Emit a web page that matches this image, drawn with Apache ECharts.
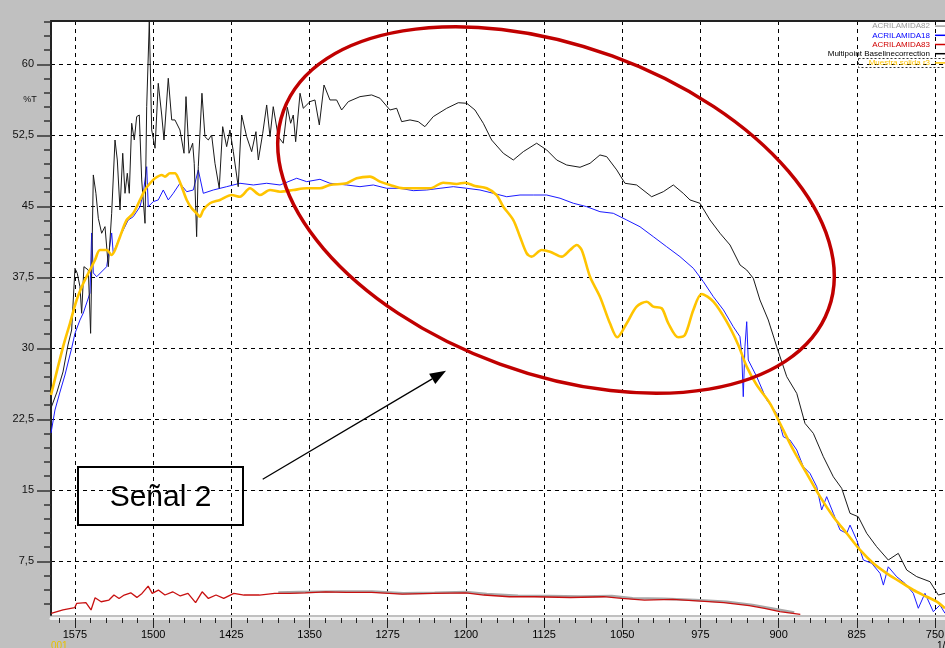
<!DOCTYPE html>
<html>
<head>
<meta charset="utf-8">
<script src="https://cdn.jsdelivr.net/npm/echarts@6/dist/echarts.min.js"></script>
<style>
  html, body { margin: 0; padding: 0; background: #c0c0c0; }
  #chart { width: 945px; height: 648px; }
</style>
</head>
<body>
<div id="chart"></div>
<script>
// Axis ranges and tick values (wavenumber in 1/cm, transmittance in %T)
const wnRange = [740, 1598];
const tRange = [1.83, 64.57];
const xMajorTicks = [750, 825, 900, 975, 1050, 1125, 1200, 1275, 1350, 1425, 1500, 1575];
const yMajorTicks = [7.5, 15, 22.5, 30, 37.5, 45, 52.5, 60];

// Multipoint baseline corrected spectrum
const baseWn = [1598, 1592.3, 1586.5, 1581.7, 1578.2, 1575, 1572.8, 1570.2, 1568.6, 1566.4, 1562.2, 1560, 1557.4, 1554.9, 1552.6, 1549.4, 1546.2, 1543, 1539.8, 1536.6, 1534.4, 1531.8, 1529.2, 1527, 1524.8, 1522.9, 1520.6, 1518.1, 1515.8, 1513.3, 1511, 1507.8, 1506.2, 1503.7, 1501.4, 1498.2, 1495.1, 1491.8, 1489.6, 1485.5, 1482.2, 1479.1, 1474.3, 1470.4, 1468.5, 1465.6, 1462.1, 1460.6, 1458.3, 1456.7, 1453.2, 1450.3, 1447.1, 1443.9, 1440.7, 1436.6, 1433.3, 1429.5, 1426.3, 1423.1, 1418.4, 1415.1, 1410.3, 1405.5, 1401.4, 1399.1, 1394.9, 1391.1, 1387.9, 1384.8, 1380, 1375.2, 1371.3, 1368.1, 1365.6, 1363.3, 1359.1, 1356, 1349.6, 1344.8, 1340.6, 1336.1, 1330.4, 1324, 1319.2, 1312.8, 1301.6, 1290.4, 1282.4, 1272.8, 1266.4, 1261.6, 1253.6, 1245.7, 1239.3, 1231.3, 1218.4, 1207.3, 1199.2, 1191.3, 1183.3, 1175.3, 1164.1, 1154.5, 1144.9, 1132.1, 1122.5, 1112.9, 1103.3, 1090.5, 1080.9, 1071.4, 1064.9, 1055.3, 1047.4, 1036.2, 1021.8, 1010.6, 1001, 991.5, 985, 975.5, 965.8, 956.2, 946.6, 937, 930.6, 924.3, 917.9, 909.9, 901.8, 892.2, 882.6, 874.7, 866.7, 857.1, 847.5, 839.5, 831.5, 823.6, 815.5, 806, 794.8, 785.2, 777.1, 767.5, 754.8, 746.8, 740.4];
const baseT = [23.69, 25.38, 27.5, 30.35, 31.93, 38.45, 37.92, 36.51, 33.7, 38.62, 38.27, 31.58, 48.31, 46.37, 43.73, 42.15, 42.85, 38.62, 44.26, 52.0, 49.89, 44.61, 50.6, 46.37, 48.49, 46.37, 53.77, 52.0, 54.47, 54.64, 47.78, 43.2, 55.52, 64.5, 53.06, 51.13, 57.99, 54.64, 52.0, 58.52, 54.12, 54.12, 53.06, 50.6, 56.58, 50.6, 51.66, 49.54, 41.79, 49.18, 56.94, 52.35, 52.0, 52.53, 49.54, 46.9, 53.41, 51.3, 53.06, 50.77, 47.07, 54.64, 52.35, 50.77, 52.88, 49.89, 52.71, 55.7, 52.35, 55.52, 52.35, 51.66, 55.45, 53.77, 54.64, 51.82, 56.94, 55.35, 56.05, 56.23, 53.59, 57.81, 56.23, 56.23, 55.17, 56.05, 56.58, 56.76, 56.41, 55.17, 55.35, 53.94, 54.12, 53.94, 53.41, 54.47, 55.35, 55.94, 55.88, 55.17, 53.77, 52.0, 50.6, 49.89, 50.77, 51.66, 50.95, 49.89, 49.36, 49.12, 49.54, 50.42, 50.24, 48.84, 47.43, 47.25, 46.01, 46.54, 47.25, 46.37, 45.67, 45.32, 43.55, 42.15, 40.91, 38.8, 38.27, 37.4, 35.1, 32.99, 30.16, 27.0, 25.24, 22.07, 21.02, 18.55, 16.43, 15.21, 12.57, 12.21, 10.46, 9.05, 7.64, 8.34, 6.58, 5.88, 5.35, 3.94, 4.12];

// ACRILAMIDA18
const acr18Wn = [1598, 1594.2, 1589.4, 1584.6, 1578.2, 1575, 1570.2, 1567, 1560.6, 1559, 1557.4, 1554.2, 1544.6, 1539.8, 1538.3, 1531.8, 1523.9, 1519.1, 1512.6, 1509.5, 1506.2, 1504.7, 1499.9, 1495.1, 1490.3, 1485.5, 1480.7, 1474.3, 1467.8, 1461.5, 1456.7, 1451.9, 1442.3, 1429.5, 1416.7, 1403.9, 1391.1, 1378.3, 1362.3, 1352.7, 1340, 1330.4, 1314.4, 1301.6, 1288.8, 1276, 1263.2, 1250.5, 1237.6, 1224.8, 1212.1, 1199.2, 1186.5, 1173.7, 1160.8, 1148.1, 1135.3, 1122.5, 1109.7, 1096.9, 1084.1, 1071.4, 1058.6, 1045.7, 1033, 1020.2, 1007.4, 994.6, 981.8, 972.2, 962.6, 952.9, 943.5, 937.1, 935.4, 933.9, 932.3, 930.6, 929.1, 921, 911.4, 901.8, 895.5, 889.1, 882.6, 876.3, 869.9, 863.4, 858.7, 853.9, 847.5, 841.1, 834.7, 831.5, 825.1, 818.7, 810.7, 802.7, 799.5, 794.8, 786.7, 778.8, 770.8, 766, 759.6, 751.6, 745.2, 740.4];
const acr18T = [21.05, 23.48, 25.38, 27.18, 30.0, 31.58, 32.99, 33.73, 35.84, 42.18, 37.96, 37.56, 38.62, 42.18, 40.07, 41.79, 43.55, 43.9, 44.96, 46.37, 49.18, 44.96, 45.49, 45.67, 46.72, 45.67, 46.37, 47.43, 46.54, 46.72, 48.84, 46.37, 46.72, 47.07, 47.43, 47.25, 47.43, 47.25, 47.96, 47.6, 47.85, 47.43, 47.25, 47.07, 47.25, 46.9, 46.9, 46.65, 46.72, 46.9, 47.07, 46.9, 46.72, 46.37, 46.01, 46.19, 46.19, 46.19, 45.85, 45.32, 44.96, 44.43, 44.26, 43.55, 42.84, 41.79, 40.73, 39.68, 38.45, 37.04, 35.45, 34.05, 32.28, 31.23, 29.47, 24.89, 30.17, 32.81, 28.76, 27.0, 24.54, 23.13, 20.66, 20.31, 19.26, 17.5, 16.79, 15.38, 12.92, 14.33, 12.57, 10.81, 10.45, 11.33, 9.75, 7.64, 7.29, 6.23, 4.99, 6.92, 5.87, 5.17, 4.12, 2.54, 4.12, 2.18, 2.88, 2.01];

// ACRILAMIDA83
const acr83Wn = [1597.8, 1586.5, 1575.3, 1573.4, 1564.5, 1559.6, 1555.7, 1549.9, 1542.4, 1537.6, 1532.7, 1527.8, 1521.5, 1515.6, 1510.7, 1504.8, 1500.9, 1495, 1488.7, 1481.3, 1474, 1466.6, 1459.3, 1453, 1447, 1439.7, 1432.3, 1422.6, 1412.8, 1398.1, 1383.4, 1368.7, 1354.1, 1334.5, 1314.9, 1290.5, 1261.1, 1231.7, 1199.9, 1182.7, 1158.3, 1133.8, 1099.6, 1067.7, 1050.6, 1028.6, 1001.6, 974.7, 952.6, 928.2, 913.5, 898.8, 879.2];
const acr83T = [2.01, 2.36, 2.6, 3.05, 3.13, 2.36, 3.66, 3.23, 3.41, 3.94, 3.58, 3.94, 4.17, 3.69, 4.11, 4.88, 4.11, 4.46, 3.94, 4.28, 3.84, 4.11, 3.13, 4.28, 3.58, 3.94, 3.58, 4.11, 3.94, 3.94, 4.11, 4.11, 4.17, 4.28, 4.21, 4.21, 4.04, 4.11, 4.17, 3.94, 3.76, 3.76, 3.68, 3.76, 3.58, 3.41, 3.48, 3.3, 3.13, 2.81, 2.53, 2.18, 1.89];

// ACRILAMIDA82
const acr82Wn = [1380, 1360, 1320, 1290, 1260, 1230, 1200, 1180, 1150, 1120, 1090, 1060, 1040, 1010, 980, 950, 925, 905, 885];
const acr82T = [4.2, 4.25, 4.32, 4.3, 4.12, 4.18, 4.25, 4.05, 3.86, 3.85, 3.78, 3.85, 3.6, 3.55, 3.42, 3.22, 2.9, 2.5, 2.1];

// Muestra solida r3
const sampleWn = [1598, 1586.8, 1579.8, 1573.4, 1567, 1560.6, 1555.8, 1551, 1544.6, 1539.8, 1536.6, 1531.8, 1525.4, 1519.1, 1512.6, 1507.9, 1503, 1498.2, 1491.8, 1488.7, 1483.9, 1479.1, 1475.9, 1472.6, 1467.8, 1463, 1458.3, 1455.1, 1451.9, 1445.5, 1435.9, 1424.7, 1416.7, 1407.1, 1397.5, 1387.9, 1378.3, 1365.6, 1352.7, 1340, 1330.4, 1314.4, 1304.8, 1292, 1282.4, 1272.8, 1260.1, 1247.2, 1234.4, 1221.7, 1208.8, 1200.9, 1191.3, 1180, 1170.5, 1164.1, 1154.5, 1148.1, 1141.7, 1136.9, 1127.3, 1119.3, 1108.1, 1100.1, 1093.7, 1088.9, 1080.9, 1071.4, 1061.8, 1054.8, 1045.7, 1036.2, 1026.5, 1020.2, 1012.2, 1005.8, 996.2, 989.8, 981.8, 973.8, 962.6, 949.8, 938.7, 930.6, 921, 908.3, 898.7, 885.9, 873.1, 860.3, 847.5, 834.7, 821.9, 809.2, 796.3, 783.6, 770.8, 757.9, 748.3, 740.4];
const sampleT = [25.07, 30.0, 32.64, 35.1, 36.87, 38.27, 39.33, 40.38, 40.38, 39.86, 40.38, 41.79, 43.55, 44.26, 45.67, 46.72, 47.43, 47.96, 48.31, 48.13, 48.49, 48.49, 47.96, 47.07, 45.67, 44.79, 44.26, 43.9, 44.61, 45.32, 45.67, 46.19, 46.01, 46.9, 46.19, 46.72, 46.54, 46.72, 46.9, 46.9, 47.25, 47.43, 47.96, 48.13, 47.6, 47.25, 46.9, 46.9, 46.9, 47.49, 47.36, 47.49, 47.14, 46.9, 46.19, 44.96, 43.55, 41.79, 40.04, 39.68, 40.38, 40.2, 39.68, 40.38, 40.91, 40.38, 37.56, 35.45, 32.64, 31.16, 32.64, 34.4, 34.92, 34.4, 34.23, 32.64, 31.16, 31.41, 34.05, 35.74, 34.92, 32.81, 30.35, 28.06, 26.12, 24.19, 22.08, 19.26, 16.79, 14.33, 12.21, 10.46, 8.7, 7.29, 6.23, 5.35, 4.47, 3.76, 3.24, 2.54];

const FONT = 'Arial, "Liberation Sans", sans-serif';

function pairs(xs, ys) {
  return xs.map((x, i) => [x, ys[i]]);
}
function multiplesOf(step, lo, hi) {
  const out = [];
  for (let k = Math.ceil(lo / step); k * step <= hi; k++) out.push(+(k * step).toFixed(3));
  return out;
}
const xMinorTicks = multiplesOf(15, wnRange[0], wnRange[1]);
const yMinorTicks = multiplesOf(1.5, tRange[0], tRange[1]);
const decimalComma = v => String(v).replace('.', ',');
const plainNumber = v => String(v);

const chart = echarts.init(document.getElementById('chart'), null, { renderer: 'canvas' });

const gridLine = { show: true, lineStyle: { color: '#000', width: 1, type: [4, 4] } };

chart.setOption({
  animation: false,
  backgroundColor: '#c0c0c0',
  grid: {
    left: 51, top: 21, width: 894.4, height: 594,
    outerBoundsMode: 'none', containLabel: false,
    show: true, backgroundColor: '#ffffff', borderWidth: 0
  },
  xAxis: [
    {
      type: 'value', min: wnRange[0], max: wnRange[1], inverse: true, position: 'bottom', offset: 3,
      axisLine: { show: true, lineStyle: { color: '#f2f2f2', width: 3 } },
      axisTick: { show: true, length: 10, customValues: xMajorTicks, lineStyle: { color: '#222', width: 1 } },
      axisLabel: { show: true, customValues: xMajorTicks, margin: 11, fontSize: 11, color: '#000', fontFamily: FONT, formatter: plainNumber },
      splitLine: gridLine
    },
    {
      type: 'value', min: wnRange[0], max: wnRange[1], inverse: true, position: 'bottom', offset: 3,
      axisLine: { show: false },
      axisTick: { show: true, length: 5, customValues: xMinorTicks, lineStyle: { color: '#222', width: 1 } },
      axisLabel: { show: false },
      splitLine: { show: false }
    },
    {
      type: 'value', min: wnRange[0], max: wnRange[1], inverse: true, position: 'top',
      axisLine: { show: true, lineStyle: { color: '#222', width: 2 } },
      axisTick: { show: false }, axisLabel: { show: false }, splitLine: { show: false }
    }
  ],
  yAxis: [
    {
      type: 'value', min: tRange[0], max: tRange[1], position: 'left',
      axisLine: { show: true, lineStyle: { color: '#222', width: 2 } },
      axisTick: { show: true, length: 7, customValues: yMinorTicks, lineStyle: { color: '#333', width: 1.5 } },
      axisLabel: { show: false },
      splitLine: { show: false }
    },
    {
      type: 'value', min: tRange[0], max: tRange[1], position: 'left',
      axisLine: { show: false },
      axisTick: { show: true, length: 14, customValues: yMajorTicks, lineStyle: { color: '#333', width: 1.5 } },
      axisLabel: { show: true, customValues: yMajorTicks, margin: 17, fontSize: 11, color: '#111', fontFamily: FONT, formatter: decimalComma },
      splitLine: gridLine
    }
  ],
  legend: {
    orient: 'vertical', right: 0, top: 21.5, padding: 0, itemGap: 0,
    itemWidth: 10, itemHeight: 1.5, align: 'right', icon: 'rect', selectedMode: false,
    textStyle: { fontSize: 8, lineHeight: 9.2, fontFamily: FONT },
    data: [
      { name: 'ACRILAMIDA82', textStyle: { color: '#9a9a9a' } },
      { name: 'ACRILAMIDA18', textStyle: { color: '#0000ff' } },
      { name: 'ACRILAMIDA83', textStyle: { color: '#d00000' } },
      { name: 'Multipoint Baselinecorrection', textStyle: { color: '#000' } },
      { name: 'Muestra solida r3', textStyle: { color: '#ffc400' } }
    ],
    z: 30
  },
  series: [
    {
      name: 'ACRILAMIDA82', type: 'line', data: pairs(acr82Wn, acr82T), showSymbol: false,
      color: '#a0a0a0', lineStyle: { color: '#a8a8a8', width: 2.5 }, z: 2
    },
    {
      name: 'ACRILAMIDA83', type: 'line', data: pairs(acr83Wn, acr83T), showSymbol: false,
      color: '#d00000', lineStyle: { color: '#c81010', width: 1.3 }, z: 3
    },
    {
      name: 'ACRILAMIDA18', type: 'line', data: pairs(acr18Wn, acr18T), showSymbol: false,
      color: '#0000ff', lineStyle: { color: '#1a1aff', width: 1 }, z: 4
    },
    {
      name: 'Multipoint Baselinecorrection', type: 'line', data: pairs(baseWn, baseT), showSymbol: false,
      color: '#000', lineStyle: { color: '#1a1a1a', width: 1 }, z: 5
    },
    {
      name: 'Muestra solida r3', type: 'line', data: pairs(sampleWn, sampleT), showSymbol: false, smooth: 0.3,
      color: '#ffc400', lineStyle: { color: '#ffc400', width: 2.6 }, z: 6
    }
  ],
  graphic: [
    // highlighted legend entry frame
    { type: 'rect', z: 40, shape: { x: 858.5, y: 58.5, width: 90, height: 9 },
      style: { fill: 'none', stroke: '#333', lineWidth: 1, lineDash: [2, 2] } },
    // annotation ellipse around the signal region
    { type: 'ellipse', z: 20, x: 556, y: 210, rotation: -20 * Math.PI / 180,
      shape: { cx: 0, cy: 0, rx: 290, ry: 164 },
      style: { fill: 'none', stroke: '#c00000', lineWidth: 3.5 } },
    // arrow pointing to the ellipse
    { type: 'line', z: 20, shape: { x1: 262.7, y1: 479.3, x2: 432.2, y2: 378.9 },
      style: { stroke: '#000', lineWidth: 1.3 } },
    { type: 'polygon', z: 20, shape: { points: [[446, 370.7], [435.3, 384.0], [429.1, 373.7]] },
      style: { fill: '#000' } },
    // label box
    { type: 'rect', z: 20, shape: { x: 78, y: 467, width: 165, height: 58 },
      style: { fill: 'none', stroke: '#000', lineWidth: 2 } },
    { type: 'text', z: 21, x: 160.5, y: 497.5,
      style: { text: 'Señal 2', fill: '#000', font: '30px ' + FONT, textAlign: 'center', textVerticalAlign: 'middle' } },
    // axis captions
    { type: 'text', z: 21, x: 30, y: 100,
      style: { text: '%T', fill: '#111', font: '9px ' + FONT, textAlign: 'center', textVerticalAlign: 'middle' } },
    { type: 'text', z: 21, x: 937, y: 641,
      style: { text: '1/cm', fill: '#000', font: '10px ' + FONT, textAlign: 'left', textVerticalAlign: 'top' } },
    { type: 'text', z: 21, x: 51, y: 641,
      style: { text: '001', fill: '#e8c000', font: '10px ' + FONT, textAlign: 'left', textVerticalAlign: 'top' } }
  ]
});
</script>
</body>
</html>
